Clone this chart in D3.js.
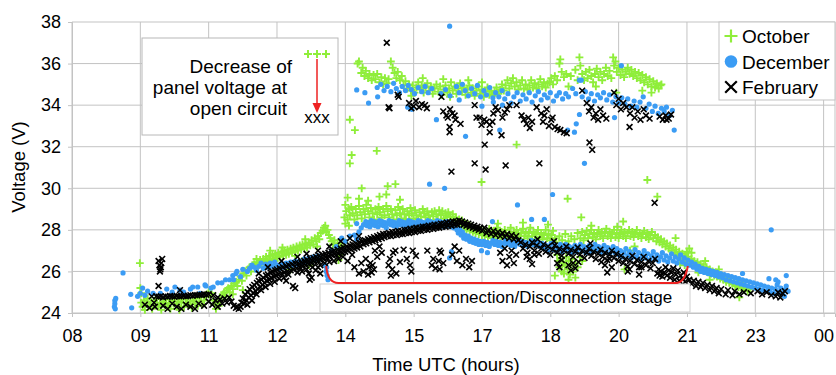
<!DOCTYPE html>
<html>
<head>
<meta charset="utf-8">
<script src="https://cdn.jsdelivr.net/npm/d3@7"></script>
<style>
  body { margin: 0; background: #fff; }
  text { font-family: "Liberation Sans", Arial, sans-serif; fill: #000; }
</style>
</head>
<body>
<svg id="chart" width="836" height="375"></svg>
<script>
// Axis ticks (hours are decimal UTC hours; 24.5 = 00:30 next day)
const xTicks = [8, 9.5, 11, 12.5, 14, 15.5, 17, 18.5, 20, 21.5, 23, 24.5];
const yTicks = [24, 26, 28, 30, 32, 34, 36, 38];
const seriesNames = ["October", "December", "February"];

// October: panel voltage, [hour, volts]
const octLow = [[9.49,26.4],[9.5,25.2],[9.52,24.95],
[9.52,24.5],[9.55,24.3],[9.58,24.6],[9.6,24.15],[9.63,24.45],[9.66,24.7],[9.7,24.35],[9.73,24.55],[9.76,24.2],[9.8,24.6],[9.83,24.4],[9.86,24.7],[9.9,24.3],[9.93,24.5],[9.96,24.15],[10.0,24.55],[10.03,24.4],[10.06,24.65],[10.1,24.3],[10.13,24.5],[10.16,24.2],[10.2,24.6],[10.23,24.45],[10.26,24.7],[10.3,24.35],[10.33,24.55],[10.36,24.15],[10.4,24.5],[10.43,24.65],[10.46,24.3],[10.5,24.5],[10.53,24.7],[10.56,24.4],[10.6,24.55],[10.63,24.25],[10.66,24.6],[10.7,24.45],[10.73,24.7],[10.76,24.35],[10.8,24.55],[10.83,24.75],[10.86,24.4],[10.9,24.6],[10.93,24.8],[10.96,24.9],[11.0,25.0],[11.03,24.85],[11.06,24.95],[11.1,24.6],[11.13,24.4],[11.16,24.2],[11.19,24.5],[11.22,24.35],[11.25,24.6],[11.28,24.75],
[11.31,24.9],[11.34,25.0],[11.37,24.8],[11.4,25.1],[11.43,25.2],[11.46,25.0],[11.5,25.3],[11.53,25.15],[11.56,25.4],[11.6,25.5],[11.63,25.3],[11.66,25.6],[11.7,25.75],[11.73,25.55],[11.76,25.9],[11.8,26.0],[11.83,25.8],[11.86,26.1],[11.9,26.2],[11.93,26.0],[11.96,26.3],[12.0,26.35],[12.03,26.2],[12.06,26.45],[11.75,25.1],[11.53,24.9],[12.05,26.6],
[12.1,26.3],[12.13,26.55],[12.16,26.4],[12.2,26.6],[12.23,26.45],[12.26,26.7],[12.3,26.5],[12.33,26.75],[12.36,26.55],[12.4,26.8],[12.43,26.6],[12.46,26.85],[12.5,26.65],[12.53,26.9],[12.56,26.7],[12.6,26.95],[12.63,26.75],[12.66,27.0],[12.7,26.8],[12.73,27.05],[12.76,26.85],[12.8,27.1],[12.83,26.9],[12.86,27.15],[12.9,26.95],[12.93,27.2],[12.96,27.0],[13.0,27.25],[13.03,27.05],[13.06,27.3],[13.1,27.1],[13.13,27.35],[13.16,27.15],[13.2,27.4],[13.23,27.25],[13.26,27.5],[13.3,27.3],[13.33,27.6],[13.36,27.45],[13.4,27.7],[13.43,27.55],[13.46,27.85],[13.5,27.95],[13.53,28.1],[13.56,28.2],[13.58,27.9],[13.61,28.0],[13.64,27.75],[13.67,27.6],[13.7,27.45],[13.73,27.3],[13.76,27.5],[13.8,27.2],[13.83,27.35],[13.86,27.1],[13.9,27.25],
[12.25,26.35],[12.45,26.5],[12.62,27.15],[12.9,26.75],[13.12,27.55],[13.38,27.2],[12.35,27.0],
[13.05,26.5],[13.2,26.3],[13.3,26.6],[12.8,26.1],[13.85,26.55],[13.87,26.8],[13.98,27.4],
[13.98,28.6],[14.0,29.2],[14.02,28.9],[14.05,28.5],[14.08,29.0],[14.1,28.7],[14.13,29.1],[14.16,28.8],[14.2,28.5],[14.23,29.0],[14.26,28.7],[14.3,29.15],[14.33,28.85],[14.36,28.55],[14.4,29.0],[14.43,28.75],[14.46,29.2],[14.5,28.9],[14.53,28.6],[14.56,29.05],[14.6,28.8],[14.63,28.5],[14.66,29.0],[14.7,28.75],[14.73,29.1],[14.76,28.85],[14.8,28.6],[14.83,29.0],[14.86,28.7],[14.9,29.15],[14.93,28.9],[14.96,28.6],[15.0,29.0],[15.03,28.75],[15.06,28.5],[15.1,28.95],[15.13,28.7],[15.16,29.1],[15.2,28.8],[15.23,28.55],[15.26,29.0],[15.3,28.75],[15.33,28.5],[15.36,28.9],[15.4,28.7],[15.43,29.05],[15.46,28.8],[15.5,28.55],[15.53,28.95],[15.56,28.7],[15.6,28.5],[15.63,28.85],[15.66,28.65],[15.7,29.0],[15.73,28.8],[15.76,28.6],[15.8,28.9],[15.83,28.7],[15.86,28.45],[15.9,28.85],[15.93,28.65],[15.96,28.9],[16.0,28.75],[16.03,28.5],[16.06,28.95],[16.1,28.7],[16.13,28.9],[16.16,28.55],[16.2,28.8],[16.23,28.6],[16.26,28.85],[16.3,28.65],[16.33,28.45],[16.36,28.75],[16.4,28.5],
[14.3,29.5],[14.5,29.4],[14.75,29.6],[14.9,29.7],[15.2,29.45],[14.05,29.55],[14.36,30.0],[14.93,30.1],[15.1,30.2],[14.0,28.3],[14.08,28.2],
[16.43,28.6],[16.46,28.35],[16.5,28.5],[16.53,28.2],[16.56,28.45],[16.6,28.1],[16.63,28.3],[16.66,28.0],[16.7,28.25],[16.73,27.95],[16.76,28.15],[16.8,27.9],[16.83,28.1],[16.86,27.85],[16.9,28.05],[16.93,27.8],[16.96,28.0],
[17.0,27.75],[17.03,28.0],[17.06,27.7],[17.1,27.9],[17.13,27.65],[17.16,28.05],[17.2,27.8],[17.23,27.6],[17.26,27.95],[17.3,27.75],[17.33,28.1],[17.36,27.85],[17.4,27.6],[17.43,27.9],[17.46,27.7],[17.5,28.0],[17.53,27.8],[17.56,27.55],[17.6,27.85],[17.63,28.1],[17.66,27.7],[17.7,27.9],[17.73,27.65],[17.76,28.0],[17.8,27.8],[17.83,27.55],[17.86,27.85],[17.9,28.05],[17.93,27.7],[17.96,27.9],[18.0,27.6],[18.03,27.85],[18.06,28.1],[18.1,27.7],[18.13,27.9],[18.16,27.55],[18.2,27.8],[18.23,28.0],[18.26,27.65],[18.3,27.85],[18.33,27.55],[18.36,27.75],[18.4,28.0],[18.43,27.6],[18.46,27.8],[18.5,27.5],[18.53,27.75],[18.56,27.95],[18.6,27.6],
[17.35,28.3],[17.62,27.35],[17.9,28.35],[18.18,27.35],[18.45,28.25],
[18.65,26.8],[18.68,26.5],[18.7,26.2],[18.72,26.6],[18.75,26.0],[18.78,26.4],[18.8,25.9],[18.82,26.3],[18.85,26.7],[18.88,26.1],[18.9,26.5],[18.93,25.85],[18.95,26.3],[18.98,26.6],[19.0,26.0],[19.05,26.4],[19.1,26.2],[19.15,26.7],[19.2,26.5],[18.6,25.8],[18.9,25.6],[19.05,25.7],
[18.63,27.4],[18.7,27.7],[18.76,27.5],[18.83,27.8],[18.9,27.45],[18.96,27.7],[19.03,27.55],[19.1,27.85],[19.16,27.6],[19.2,27.9],[19.23,27.5],[19.26,27.75],[19.3,27.95],[19.33,27.6],[19.36,27.8],[19.4,28.0],[19.43,27.65],[19.46,27.85],[19.5,27.55],[19.53,27.8],[19.56,28.0],[19.6,27.7],[19.63,27.9],[19.66,27.6],[19.7,27.85],[19.73,28.05],[19.76,27.7],[19.8,27.9],[19.83,27.6],[19.86,27.8],[19.9,28.0],[19.93,27.65],[19.96,27.85],[20.0,27.6],[20.03,27.8],[20.06,28.0],[20.1,27.7],[20.13,27.9],[20.16,27.6],[20.2,27.85],[20.23,28.0],[20.26,27.7],[20.3,27.9],[20.33,27.65],[20.36,27.8],[20.4,28.0],[20.43,27.7],[20.46,27.85],[20.5,27.6],[20.53,27.8],[20.56,27.95],[20.6,27.65],[20.63,27.85],[20.66,27.55],[20.7,27.75],[20.73,27.9],[20.76,27.6],[20.8,27.75],[20.83,27.45],[20.86,27.65],[20.9,27.4],[20.93,27.55],[20.96,27.3],[21.0,27.45],
[19.18,28.6],[19.4,28.2],[19.97,28.15],[20.1,28.4],[20.35,27.2],[20.13,26.1],[19.45,27.1],[20.25,27.0],
[21.03,27.2],[21.06,27.35],[21.1,27.1],[21.13,27.25],[21.16,27.0],[21.2,27.15],[21.23,26.9],[21.26,27.05],[21.3,26.8],[21.33,26.95],[21.36,26.7],[21.4,26.85],[21.43,26.6],[21.46,26.75],[21.5,26.5],[21.53,26.7],[21.56,26.45],[21.6,26.6],[21.63,26.35],[21.66,26.5],[21.7,26.3],[21.73,26.45],[21.76,26.2],[21.8,26.35],[21.83,26.1],[21.86,26.25],[21.9,26.05],[21.93,26.2],[21.96,25.95],[22.0,26.1],[22.03,25.9],[22.06,26.0],[22.1,25.8],[22.13,25.95],[22.16,25.75],[22.2,25.85],[22.23,25.65],[22.26,25.8],[22.3,25.6],[22.33,25.7],[22.36,25.5],[22.4,25.65],[22.43,25.45],[22.46,25.55],[22.5,25.4],[22.53,25.5],[22.56,25.3],[22.6,25.45],[22.63,25.25],[22.66,25.35],[22.7,25.2],[22.73,25.3],[22.76,25.1],[22.8,25.2],[22.83,25.05],[22.86,25.15],
[21.25,27.6],[21.5,26.95],[21.55,27.1],[22.65,24.75],[22.0,25.6],[21.45,26.3],[21.35,26.4],[21.6,26.9],[21.75,25.95],[21.9,26.5],[22.2,26.1]];

const octHigh = [[14.27,36.0],[14.3,36.1],[14.38,35.8],[14.35,35.55],[14.42,35.4],[14.45,35.65],[14.5,35.3],[14.53,35.5],[14.58,35.2],[14.62,35.45],[14.66,35.25],[14.7,35.5],[14.75,35.1],[14.79,35.35],[14.83,35.0],[14.87,35.3],[14.91,35.05],[14.95,35.25],[15.0,36.1],[15.04,35.8],[15.08,35.55],[15.12,35.3],[15.15,35.6],[15.2,35.2],[15.24,35.4],[15.28,34.95],[15.32,35.15],[15.36,34.8],[15.4,35.0],[15.44,34.7],[15.48,34.95],[15.52,34.6],[15.56,34.85],[15.6,35.1],[15.64,34.75],[15.68,34.95],[15.72,34.6],[15.76,34.85],[15.8,35.05],[15.84,34.7],[15.88,34.9],[15.92,34.55],[15.96,34.8],[16.0,35.0],[16.04,34.65],[16.08,34.9],[16.12,34.5],[16.16,34.75],[16.2,34.95],[16.24,34.6],[16.28,34.8],[16.32,35.1],[16.36,34.7],[16.4,34.9],[16.44,34.55],[16.48,34.8],[16.52,35.05],[16.56,34.65],[16.6,34.85],[16.64,34.5],[16.68,34.75],[16.72,34.95],[16.76,34.6],[16.8,34.8],[16.84,34.45],[16.88,34.7],[16.92,34.9],[16.96,34.55],[17.0,34.75],[17.04,34.4],[17.08,34.65],[17.12,34.85],[17.16,34.5],[17.2,34.7],[17.24,34.45],[17.28,34.65],[17.32,34.85],[17.36,34.55],[17.4,34.75],[17.44,35.0],[17.48,34.7],[17.52,34.95],[17.56,35.2],[17.6,34.8],[17.64,35.05],[17.68,35.3],[17.72,34.9],[17.76,35.1],[17.8,34.75],[17.84,34.95],[17.88,35.2],[17.92,34.8],[17.96,35.0],[18.0,34.75],[18.04,34.95],[18.08,35.2],[18.12,34.85],[18.16,35.05],[18.2,34.8],[18.24,35.0],[18.28,35.25],[18.32,34.9],[18.36,35.1],[18.4,34.85],[18.44,35.05],[18.48,35.1],[18.52,35.3],[18.56,35.0],[18.6,35.4],[18.65,35.2],[18.7,36.0],[18.72,36.2],[18.75,35.6],[18.8,35.35],[18.85,35.5],[18.9,34.9],
[15.7,35.3],[16.15,35.25],[16.7,35.2],[17.0,35.1],[15.45,34.45],[16.3,34.4],
[19.1,35.2],[19.14,36.3],[19.16,35.9],[19.2,35.5],[19.24,35.2],[19.28,35.6],[19.32,35.3],[19.36,35.7],[19.4,35.4],[19.44,35.1],[19.48,35.5],[19.52,35.75],[19.56,35.35],[19.6,35.6],[19.64,35.2],[19.68,35.5],[19.72,35.8],[19.76,35.4],[19.8,35.65],[19.84,35.3],[19.88,36.3],[19.9,35.9],[19.93,36.1],[19.96,35.6],[20.0,35.8],[20.04,35.45],[20.08,35.7],[20.12,35.35],[20.16,35.6],[20.2,35.8],[20.24,35.5],[20.28,35.7],[20.32,35.4],[20.36,35.6],[20.4,35.3],[20.44,35.55],[20.48,35.2],[20.52,35.45],[20.56,35.1],[20.6,35.35],[20.64,35.0],[20.68,35.25],[20.72,34.9],[20.76,35.15],[20.8,34.85],[20.84,35.05],[20.88,34.8],[20.92,34.95],[20.94,35.0],[20.52,34.7],[20.72,34.6],[19.95,34.6],[19.5,34.9],[18.95,35.4],[19.05,35.7],
[14.1,33.3],[14.21,32.8],[14.14,31.6],[14.1,31.2],[14.69,31.8],[17.76,32.1],[20.63,30.4],[20.85,29.6],[18.88,29.5],[16.99,30.3]];

// December
const decLow = [[8.93,24.3],[8.94,24.45],[8.94,24.6],[8.95,24.2],[8.96,24.7],[9.12,25.93],[9.29,24.9],[9.31,24.25],[9.44,24.8],[9.5,24.95],[9.55,25.2],[9.6,24.85],[9.66,25.05],[9.78,24.95],[9.94,24.95],[10.08,25.15],[10.2,25.0],[10.26,25.25],[10.37,25.1],[10.45,25.0],[10.6,25.15],[10.65,25.25],[10.76,25.25],[10.81,24.95],[10.92,25.35],[10.94,25.3],[11.05,25.2],[11.1,25.25],[11.2,25.45],[11.29,25.45],[11.37,25.6],[11.46,25.6],[11.53,25.8],[11.55,25.6],[11.6,25.9],[11.62,26.0],[11.7,25.75],[11.75,26.1],[11.85,26.0],[11.9,26.15],[11.95,26.3],[12.0,26.2],[12.05,26.05],
[12.1,26.25],[12.15,26.4],[12.2,26.15],[12.25,26.35],[12.3,26.2],[12.35,26.4],[12.4,26.25],[12.45,26.45],[12.5,26.3],[12.55,26.15],[12.6,26.35],[12.65,26.2],[12.7,26.4],[12.75,26.25],[12.8,26.45],[12.85,26.3],[12.9,26.5],[12.95,26.35],[13.0,26.5],[13.05,26.4],[13.1,26.6],[13.15,26.45],[13.2,26.65],[13.25,26.5],[13.3,26.7],[13.35,26.55],[13.4,26.75],[13.45,26.6],[13.55,26.3],[13.58,26.0],[13.6,25.8],[13.59,26.2],[13.62,25.6],
[13.7,27.0],[13.8,27.2],[13.92,27.6],[14.0,27.45],[14.1,27.7],[14.2,27.75],[14.25,27.55],[14.25,28.3],[14.3,27.9],[14.35,28.1],[14.4,28.25],
[14.45,28.4],[14.48,28.2],[14.51,28.35],[14.54,28.15],[14.57,28.45],[14.6,28.25],[14.63,28.4],[14.66,28.2],[14.69,28.35],[14.72,28.15],[14.75,28.45],[14.78,28.25],[14.81,28.4],[14.84,28.2],[14.87,28.35],[14.9,28.1],[14.93,28.3],[14.96,28.45],[15.0,28.25],[15.03,28.4],[15.06,28.2],[15.09,28.35],[15.12,28.15],[15.15,28.3],[15.18,28.45],[15.21,28.25],[15.24,28.4],[15.27,28.2],[15.3,28.35],[15.33,28.15],[15.36,28.3],[15.39,28.45],[15.42,28.25],[15.45,28.4],[15.48,28.2],[15.51,28.35],[15.54,28.15],[15.57,28.3],[15.6,28.45],[15.63,28.25],[15.66,28.4],[15.69,28.2],[15.72,28.35],[15.75,28.15],[15.78,28.3],[15.81,28.45],[15.84,28.25],[15.87,28.4],[15.9,28.2],[15.93,28.35],[15.96,28.15],[15.99,28.3],[16.02,28.45],[16.05,28.25],[16.08,28.4],[16.11,28.2],[16.14,28.35],[16.17,28.15],[16.2,28.3],[16.23,28.4],[16.26,28.2],[16.29,28.35],[16.32,28.15],[16.35,28.3],[16.38,28.1],[16.41,28.25],
[16.45,28.0],[16.48,27.85],[16.51,28.05],[16.54,27.75],[16.57,27.9],[16.6,27.6],[16.63,27.75],[16.66,27.55],[16.7,27.7],[16.73,27.45],[16.76,27.6],[16.8,27.4],[16.83,27.55],[16.86,27.35],[16.9,27.5],[16.93,27.3],[16.96,27.45],
[17.0,27.3],[17.04,27.45],[17.08,27.25],[17.12,27.4],[17.16,27.2],[17.2,27.35],[17.24,27.5],[17.28,27.3],[17.32,27.45],[17.36,27.25],[17.4,27.4],[17.44,27.2],[17.48,27.35],[17.52,27.5],[17.56,27.3],[17.6,27.45],[17.64,27.25],[17.68,27.4],[17.72,27.2],[17.76,27.35],[17.8,27.5],[17.84,27.3],[17.88,27.45],[17.92,27.25],[17.96,27.4],[18.0,27.2],[18.04,27.35],[18.08,27.5],[18.12,27.3],[18.16,27.45],[18.2,27.25],[18.24,27.4],[18.28,27.2],
[18.32,27.35],[18.36,27.1],[18.4,27.25],[18.44,27.0],[18.48,27.2],[18.52,27.35],[18.56,27.05],[18.6,27.25],[18.64,27.0],[18.68,27.15],[18.72,27.3],[18.76,26.95],[18.8,27.15],[18.84,27.3],[18.88,27.0],[18.92,27.2],[18.96,26.9],[19.0,27.1],[19.04,27.25],[19.08,26.95],[19.12,27.15],[19.16,27.3],[19.2,27.0],[19.24,27.2],[19.28,26.9],[19.32,27.1],[19.36,27.25],[19.4,26.95],[19.44,27.15],[19.48,27.3],[19.52,27.0],[19.56,27.2],[19.6,26.9],[19.64,27.1],[19.68,27.25],[19.72,26.95],[19.76,27.15],[19.8,26.85],[19.84,27.05],[19.88,27.2],[19.92,26.9],[19.96,27.1],
[20.0,26.8],[20.04,27.0],[20.08,26.7],[20.12,26.9],[20.16,27.1],[20.2,26.75],[20.24,26.95],[20.28,26.65],[20.32,26.85],[20.36,27.05],[20.4,26.7],[20.44,26.9],[20.48,26.6],[20.52,26.8],[20.56,27.0],[20.6,26.65],[20.64,26.85],[20.68,26.55],[20.72,26.75],[20.76,26.95],[20.8,26.6],[20.84,26.8],[20.88,26.5],[20.92,26.7],[20.96,26.9],[21.0,26.55],[21.04,26.75],[21.08,26.45],[21.12,26.65],[21.16,26.85],[21.2,26.5],[21.24,26.7],[21.28,26.4],[21.32,26.6],[21.36,26.8],[21.4,26.45],[21.44,26.65],[21.48,26.35],
[21.52,26.55],[21.56,26.3],[21.6,26.45],[21.64,26.2],[21.68,26.35],[21.72,26.1],[21.76,26.25],[21.8,26.0],[21.84,26.15],[21.88,25.95],[21.92,26.1],[21.96,25.9],[22.0,26.05],[22.04,25.85],[22.08,26.0],[22.12,25.8],[22.16,25.95],[22.2,25.75],[22.24,25.9],[22.28,25.7],[22.32,25.85],[22.36,25.6],[22.4,25.8],[22.44,25.55],[22.48,25.75],[22.52,25.5],[22.56,25.7],[22.6,25.45],[22.64,25.65],[22.68,25.4],[22.72,25.6],[22.76,25.35],[22.8,25.55],[22.84,25.3],[22.88,25.5],[22.92,25.25],[22.96,25.45],[23.0,25.2],[23.04,25.4],[23.08,25.15],[23.12,25.35],[23.16,25.1],[23.2,25.3],[23.24,25.05],[23.28,25.25],[23.32,25.0],[23.36,25.2],[23.4,24.95],[23.44,25.15],[23.48,25.35],[23.52,25.0],[23.56,25.2],[23.6,24.9],[23.64,25.1],[23.68,25.3],[23.72,25.05],[23.64,24.8],[23.68,25.8],[23.35,28.0],[22.72,25.9],[23.3,25.65],[23.45,25.6],[23.5,25.5],
[17.78,29.2],[18.09,28.5],[18.37,28.5],[17.23,28.4],[16.99,27.0],[17.12,26.9],[16.33,26.95],[16.29,26.65],[18.55,29.7],[15.85,30.2],[16.18,30.0]];

const decHigh = [[16.29,37.8],[14.25,34.73],[14.43,34.6],[14.51,34.1],[14.71,34.4],[14.7,34.85],[14.78,35.0],[14.85,34.7],[14.92,34.9],[15.0,34.65],[15.06,35.05],[15.12,34.8],[15.19,34.6],[15.25,34.9],[15.32,34.7],[15.38,34.95],[15.45,34.75],[15.52,34.55],[15.6,34.85],[15.68,34.65],[15.75,34.9],[15.82,34.6],[15.9,34.8],[15.37,33.9],[15.46,33.8],[16.0,33.3],[16.1,34.55],[16.2,34.75],[16.3,34.45],[16.44,34.9],[16.5,34.6],[16.57,35.0],[16.63,34.7],[16.7,34.45],[16.77,34.8],[16.84,34.55],[16.9,34.95],[16.97,34.4],[17.04,34.7],[17.1,34.5],[17.17,34.85],[17.24,34.35],[17.3,34.6],[17.37,34.4],[17.44,34.7],[17.5,34.3],[17.57,34.55],[17.64,34.1],[17.7,34.4],[17.77,34.6],[17.84,34.2],[17.9,34.5],[17.97,34.3],[18.04,34.6],[18.1,34.15],[18.17,34.45],[18.24,34.65],[18.3,34.25],[18.37,34.5],[18.44,34.35],[18.5,34.6],[18.57,34.2],[18.64,34.45],[18.7,34.6],[18.77,34.3],[18.84,34.55],[18.9,34.4],[18.99,34.8],[19.06,34.55],[19.14,35.2],[19.18,35.2],[19.2,34.4],[19.27,34.65],[19.34,34.3],[19.4,34.55],[19.47,34.2],[19.54,34.5],[19.6,34.35],[19.67,34.6],[19.74,34.25],[19.8,34.5],[19.87,34.15],[19.94,34.4],[20.0,34.1],[20.06,35.9],[20.07,34.35],[20.14,34.05],[20.2,34.3],[20.27,33.95],[20.34,34.2],[20.4,33.9],[20.47,34.15],[20.54,34.4],[20.6,33.85],[20.67,34.05],[20.74,33.7],[20.8,33.95],[20.87,33.6],[20.94,33.85],[21.0,33.7],[21.05,33.9],[21.12,33.5],[21.18,33.75],[21.22,32.8],[16.64,32.5],[17.39,32.8],[19.91,33.4],[19.07,33.1],[19.03,32.7],[19.25,31.2],[18.88,32.8],[19.14,33.55],[16.5,34.25],[17.0,33.95],[17.25,34.15],[17.45,34.0]];

// February
const febLow = [[9.9,26.5],[9.92,26.3],[9.94,26.1],[9.96,26.4],[9.93,26.0],[9.98,26.6],[9.95,26.2],[9.9,25.3],[9.75,24.8],[9.82,24.3],
[9.85,24.8],[9.9,24.78],[9.95,24.8],[10.0,24.75],[10.05,24.8],[10.1,24.78],[10.15,24.82],[10.2,24.8],[10.25,24.78],[10.3,24.82],[10.35,24.8],[10.4,24.8],[10.45,24.83],[10.5,24.8],[10.55,24.82],[10.6,24.85],[10.65,24.83],[10.7,24.86],[10.75,24.85],[10.8,24.88],[10.85,24.87],[10.9,24.9],[10.95,24.88],[11.0,24.9],[10.37,25.1],
[9.6,24.4],[9.7,24.25],[9.8,24.5],[10.0,24.35],[10.1,24.2],[10.2,24.45],[10.3,24.3],[10.4,24.2],[10.5,24.4],[10.6,24.3],[10.7,24.2],[10.78,24.45],[10.9,24.35],[11.0,24.55],[11.08,24.4],[11.15,24.6],[11.2,24.3],[11.25,24.65],[11.3,24.45],[11.35,24.7],[11.4,24.5],[11.45,24.75],[11.5,24.55],[11.55,24.35],[11.6,24.25],[11.63,24.3],[11.66,24.2],[11.7,24.3],[11.2,24.75],[11.1,24.85],
[11.72,24.5],[11.75,24.7],[11.78,24.45],[11.8,24.9],[11.83,24.6],[11.86,25.0],[11.88,24.75],[11.9,25.15],[11.93,24.85],[11.96,25.25],[11.98,24.95],[12.0,25.35],[12.03,25.05],[12.06,25.45],[12.08,25.15],[12.1,25.55],[12.13,25.25],[12.16,25.6],[12.18,25.35],[12.2,25.7],[12.23,25.45],[12.26,25.8],[12.28,25.55],[12.3,25.85],[12.33,25.6],[12.36,25.95],[12.38,25.7],[12.4,26.0],[12.43,25.75],[12.46,26.05],[12.48,25.8],[12.5,26.1],[12.53,25.85],[12.56,26.15],[12.6,25.9],[12.63,26.2],[12.66,25.95],[12.7,26.25],[12.73,26.0],[12.76,26.3],[12.8,26.05],[12.83,26.35],[12.86,26.1],[12.9,26.4],[12.93,26.15],[12.96,26.4],[13.0,26.2],[13.03,26.45],[13.06,26.25],[13.1,26.5],[13.13,26.3],[13.16,26.55],[13.2,26.35],[13.23,26.6],[13.26,26.4],[13.3,26.65],[13.33,26.45],[13.36,26.7],[13.4,26.5],[13.43,26.75],[13.46,26.55],[13.5,26.8],[13.53,26.6],[13.56,26.85],[13.6,26.65],[13.63,26.9],[13.66,26.7],[13.7,26.95],[13.73,26.75],[13.76,27.0],[13.8,26.8],[13.83,27.05],[13.86,26.85],[13.9,27.1],[13.93,26.9],[13.96,27.15],[14.0,26.95],[14.03,27.2],[14.06,27.0],[14.1,27.25],[14.13,27.05],[14.16,27.3],[14.2,27.1],[14.23,27.35],[14.26,27.15],[14.3,27.4],[14.33,27.2],[14.36,27.45],[14.4,27.3],[14.43,27.5],[14.46,27.35],[14.5,27.55],[14.53,27.4],[14.56,27.6],[14.6,27.45],[14.63,27.65],[14.66,27.5],[14.7,27.7],[14.73,27.55],[14.76,27.75],[14.8,27.6],[14.83,27.8],[14.86,27.65],[14.9,27.8],[14.93,27.7],[14.96,27.85],[15.0,27.7],[15.03,27.9],[15.06,27.75],[15.1,27.9],[15.13,27.75],[15.16,27.95],[15.2,27.8],[15.23,27.95],[15.26,27.8],[15.3,28.0],[15.33,27.85],[15.36,28.0],[15.4,27.85],[15.43,28.05],[15.46,27.9],[15.5,28.05],[15.53,27.9],[15.56,28.1],[15.6,27.95],[15.63,28.1],[15.66,27.95],[15.7,28.15],[15.73,28.0],[15.76,28.15],[15.8,28.0],[15.83,28.2],[15.86,28.05],[15.9,28.2],[15.93,28.05],[15.96,28.25],[16.0,28.1],[16.03,28.25],[16.06,28.1],[16.1,28.3],[16.13,28.15],[16.16,28.3],[16.2,28.15],[16.23,28.35],[16.26,28.2],[16.3,28.35],[16.33,28.2],[16.36,28.4],[16.4,28.25],[16.43,28.4],[16.46,28.25],[16.5,28.45],[16.53,28.3],[16.56,28.4],[16.6,28.25],[16.63,28.35],[16.66,28.2],[16.7,28.3],[16.73,28.15],[16.76,28.25],[16.8,28.1],[16.83,28.2],[16.86,28.05],[16.9,28.15],[16.93,28.0],[16.96,28.1],
[11.85,24.4],[11.95,24.6],[12.05,24.9],[12.15,25.1],[12.25,25.25],[12.35,25.4],[12.45,25.5],[12.55,25.65],[12.65,25.7],[12.75,25.85],[12.95,25.95],[13.05,26.0],[13.15,26.1],[13.28,26.2],[13.45,26.3],[13.55,26.4],[13.65,26.45],[13.75,26.5],[13.85,26.6],[13.95,26.7],[12.1,25.9],[12.3,26.2],[12.6,26.5],[12.95,26.7],[13.15,26.85],[13.4,27.0],[13.65,27.2],[13.9,27.45],[14.1,27.6],[14.3,27.7],
[17.0,27.95],[17.05,28.1],[17.1,27.85],[17.15,28.0],[17.2,27.8],[17.25,27.95],[17.3,27.75],[17.35,27.9],[17.4,27.7],[17.45,27.85],[17.5,27.65],[17.55,27.8],[17.6,27.6],[17.65,27.75],[17.7,27.55],[17.75,27.7],[17.8,27.5],
[17.85,27.4],[17.9,27.1],[17.95,27.3],[18.0,26.9],[18.05,27.2],[18.1,27.4],[18.15,27.0],[18.2,27.25],[18.25,26.85],[18.3,27.1],[18.35,27.3],[18.4,26.95],[18.45,27.2],[18.5,26.8],[18.55,27.05],[18.6,27.25],[18.65,26.9],[18.7,27.1],[18.75,26.75],[18.8,27.0],[18.85,27.2],[18.9,26.85],[18.95,27.05],[19.0,26.7],[19.05,26.95],[19.1,27.15],[19.15,26.8],[19.2,27.0],[19.25,26.65],[19.3,26.9],[19.35,27.1],[19.4,26.75],[19.45,26.95],[19.5,26.6],[19.55,26.85],[19.6,27.05],[19.65,26.7],[19.7,26.9],[19.75,26.55],[19.8,26.8],[19.85,27.0],[19.9,26.65],[19.95,26.85],[20.0,26.5],
[17.4,26.9],[17.45,26.5],[17.5,27.1],[17.55,26.3],[17.6,26.7],[17.65,27.0],[17.7,26.4],[17.75,26.8],[18.05,26.6],[18.1,26.35],[18.15,26.8],[18.65,26.4],[18.7,26.2],[18.75,26.55],[18.9,26.3],[18.95,26.05],[19.0,26.4],[19.05,26.15],[19.7,26.3],[19.75,25.95],[19.8,26.6],[19.85,26.2],
[18.22,27.55],[18.58,27.45],[19.12,26.45],[19.38,27.35],[19.62,26.45],[17.98,26.7],
[20.05,26.75],[20.1,26.4],[20.15,26.6],[20.2,26.25],[20.25,26.5],[20.3,26.75],[20.35,26.35],[20.4,26.55],[20.45,26.2],[20.5,26.45],[20.55,26.7],[20.6,26.3],[20.65,26.5],[20.7,26.15],[20.75,26.4],[20.8,26.6],[20.85,25.9],[20.88,26.1],[20.9,25.8],[20.93,26.0],[20.96,25.75],[21.0,25.95],[21.03,26.2],[21.06,25.8],[21.1,26.05],[21.13,25.7],[21.16,25.95],[21.2,26.15],[21.23,25.6],[21.26,25.85],[21.3,26.05],[21.33,25.55],[21.36,25.8],[21.4,25.65],[21.43,25.95],[21.46,25.5],[21.5,25.75],[20.2,26.0],[20.45,25.85],[20.24,26.1],[20.5,26.2],
[21.55,25.6],[21.6,25.4],[21.65,25.55],[21.7,25.3],[21.75,25.5],[21.8,25.25],[21.85,25.45],[21.9,25.2],[21.95,25.35],[22.0,25.1],[22.05,25.3],[22.1,25.05],[22.15,25.2],[22.2,24.95],[22.25,25.15],[22.35,24.9],[22.4,25.1],[22.5,24.85],[22.55,25.05],[22.65,24.9],[22.75,25.0],[22.9,24.95],[23.05,25.05],[23.15,24.9],[23.25,25.0],[23.35,24.85],[23.45,24.8],[23.5,25.0],[23.55,24.75],[23.6,24.95],[23.65,25.05],
[13.22,25.6],[13.26,25.7],[13.4,26.2],[13.45,25.9],[13.2,25.9],[12.85,25.3],[12.7,25.55],[12.9,25.2],[13.35,26.05],
[14.05,26.5],[14.15,26.8],[14.2,26.2],[14.3,25.9],[14.35,26.4],[14.4,26.0],[14.45,26.6],[14.5,25.85],[14.52,26.2],[14.55,26.4],[14.58,25.95],[14.6,26.3],[14.63,26.1],[14.65,27.0],[14.7,26.7],[14.75,27.2],[14.8,26.9],[14.95,26.3],[14.98,26.6],[15.0,25.8],[15.03,26.1],[15.05,26.9],[15.1,27.0],[15.12,25.9],[15.2,26.45],[15.28,27.05],[15.35,26.6],[15.42,26.3],[15.45,26.0],[15.48,27.0],[15.55,26.75],[15.8,27.0],[15.9,26.3],[15.93,26.6],[15.98,26.15],[16.05,26.5],[16.1,26.9],[16.15,26.4],[16.35,26.8],[16.4,27.2],[16.45,26.5],[16.5,27.0],[16.57,26.3],[16.65,26.6],[16.72,26.2],[16.78,26.5],[16.07,27.0],[16.07,26.1]];

const febHigh = [[14.91,37.0],[14.95,33.9],[14.97,33.85],[15.17,34.4],[15.15,34.5],[15.4,34.1],[15.45,33.85],[15.5,33.95],[15.55,34.2],[15.62,33.9],[15.68,34.05],[15.75,34.0],[15.79,33.85],[16.11,34.4],[16.15,33.7],[16.22,33.5],[16.25,33.4],[16.3,33.8],[16.35,33.6],[16.4,33.5],[16.42,33.3],[16.29,32.95],[16.29,32.7],[16.53,33.1],[16.84,34.0],[16.88,33.4],[16.95,33.4],[16.99,33.05],[17.05,33.3],[17.1,33.2],[17.17,33.05],[17.17,32.7],[17.23,33.2],[17.06,32.1],[16.84,31.2],[16.33,30.8],[17.08,30.9],[17.52,31.1],[17.25,33.6],[17.3,33.9],[17.35,33.75],[17.43,32.55],[17.45,33.4],[17.5,33.65],[17.55,33.8],[17.6,34.0],[17.76,34.0],[17.87,33.5],[17.92,33.3],[17.98,33.1],[18.02,33.4],[18.05,32.9],[18.1,33.2],[18.2,33.9],[18.26,31.2],[18.3,33.6],[18.34,33.2],[18.37,33.5],[18.42,33.8],[18.47,33.0],[18.52,33.3],[18.55,33.4],[18.6,32.95],[18.66,32.85],[18.72,32.8],[18.8,32.7],[18.86,32.65],[19.2,34.7],[19.3,34.1],[19.35,33.7],[19.4,33.9],[19.45,33.4],[19.5,33.6],[19.55,33.3],[19.6,33.8],[19.66,33.5],[19.73,33.35],[19.36,32.2],[19.42,31.85],[19.9,34.6],[19.95,34.0],[20.0,34.3],[20.05,33.8],[20.1,34.1],[20.17,33.9],[20.24,32.95],[20.25,33.6],[20.3,33.9],[20.35,33.4],[20.42,33.7],[20.48,33.3],[20.55,33.8],[20.6,33.5],[20.68,33.35],[20.9,33.45],[20.97,33.3],[21.03,33.5],[21.1,33.35],[21.15,33.55],[21.05,33.3],[20.79,29.3]];

const colors = { October: "#8fee3a", December: "#3b9cf4", February: "#000000" };
const gridColor = "#c3c3c3";

const svg = d3.select("#chart");
const plot = { left: 72, right: 835, top: 22, bottom: 313 };

const x = d3.scaleLinear().domain([8, 24.75]).range([plot.left, plot.right]);
const y = d3.scaleLinear().domain([24, 38]).range([plot.bottom, plot.top]);

// Grid
const grid = svg.append("g");
grid.selectAll("line.h").data(yTicks).join("line")
  .attr("x1", plot.left).attr("x2", plot.right)
  .attr("y1", d => y(d)).attr("y2", d => y(d))
  .attr("stroke", gridColor).attr("stroke-width", 1);
grid.selectAll("line.v").data(xTicks).join("line")
  .attr("x1", d => x(d)).attr("x2", d => x(d))
  .attr("y1", plot.top).attr("y2", plot.bottom)
  .attr("stroke", gridColor).attr("stroke-width", 1);
grid.append("line").attr("x1", plot.right).attr("x2", plot.right)
  .attr("y1", plot.top).attr("y2", plot.bottom)
  .attr("stroke", gridColor).attr("stroke-width", 1);

// Axes
const hourFmt = h => String(Math.floor(h) % 24).padStart(2, "0");
const xAxis = svg.append("g").attr("transform", `translate(0,${plot.bottom})`)
  .call(d3.axisBottom(x).tickValues(xTicks).tickFormat(hourFmt).tickSize(4).tickPadding(12));
const yAxis = svg.append("g").attr("transform", `translate(${plot.left},0)`)
  .call(d3.axisLeft(y).tickValues(yTicks).tickFormat(d3.format("d")).tickSize(4).tickPadding(7));
[xAxis, yAxis].forEach(a => {
  a.select(".domain").attr("stroke", gridColor);
  a.selectAll(".tick line").attr("stroke", gridColor);
  a.selectAll(".tick text").attr("font-size", 18).attr("fill", "#000")
    .attr("font-family", "Liberation Sans, Arial, sans-serif");
});

svg.append("text").attr("x", 446).attr("y", 371).attr("text-anchor", "middle")
  .attr("font-size", 18.5).text("Time UTC (hours)");
svg.append("text").attr("transform", "translate(25,167) rotate(-90)")
  .attr("text-anchor", "middle").attr("font-size", 18.5).text("Voltage (V)");

// Marker shapes
const plusPath = s => `M${-s},0H${s}M0,${-s}V${s}`;
const crossPath = s => `M${-s},${-s}L${s},${s}M${-s},${s}L${s},${-s}`;

const series = [
  { name: seriesNames[0], pts: octLow.concat(octHigh) },
  { name: seriesNames[1], pts: decLow.concat(decHigh) },
  { name: seriesNames[2], pts: febLow.concat(febHigh) }
];

const marks = svg.append("g");
series.forEach(s => {
  const g = marks.append("g");
  if (s.name === "December") {
    g.selectAll("circle").data(s.pts).join("circle")
      .attr("cx", d => x(d[0])).attr("cy", d => y(d[1])).attr("r", 2.6)
      .attr("fill", colors[s.name]);
  } else {
    const isPlus = s.name === "October";
    g.selectAll("path").data(s.pts).join("path")
      .attr("transform", d => `translate(${x(d[0])},${y(d[1])})`)
      .attr("d", isPlus ? plusPath(3.9) : crossPath(2.9))
      .attr("fill", "none").attr("stroke", colors[s.name])
      .attr("stroke-width", isPlus ? 1.9 : 1.6);
  }
});

// Legend
const legend = svg.append("g");
legend.append("rect").attr("x", 719).attr("y", 22).attr("width", 116).attr("height", 78)
  .attr("fill", "#fff").attr("stroke", gridColor);
seriesNames.forEach((n, i) => {
  const cy = 36 + i * 25.5;
  const item = legend.append("g").attr("transform", `translate(731,${cy})`);
  if (n === "December") item.append("circle").attr("r", 6.3).attr("fill", colors[n]);
  else item.append("path").attr("d", n === "October" ? plusPath(6.5) : crossPath(5.8))
    .attr("stroke", colors[n]).attr("stroke-width", 2.2).attr("fill", "none");
  legend.append("text").attr("x", 742).attr("y", cy + 7).attr("font-size", 19).text(n);
});

// Note: open-circuit voltage decrease
const note = svg.append("g");
note.append("rect").attr("x", 142).attr("y", 38).attr("width", 196).attr("height", 97)
  .attr("fill", "#fff").attr("stroke", "#b8b8b8");
[["Decrease of", 292, 73], ["panel voltage at", 287, 94], ["open circuit", 287, 115]].forEach(([t, tx, ty]) =>
  note.append("text").attr("x", tx).attr("y", ty).attr("text-anchor", "end").attr("font-size", 19).text(t));
[308, 317, 326].forEach(px => note.append("path").attr("transform", `translate(${px},54)`)
  .attr("d", plusPath(4)).attr("stroke", colors.October).attr("stroke-width", 2).attr("fill", "none"));
note.append("line").attr("x1", 317).attr("x2", 317).attr("y1", 59).attr("y2", 104)
  .attr("stroke", "#ee2222").attr("stroke-width", 1.5);
note.append("path").attr("d", "M312.5,103L321.5,103L317,113Z").attr("fill", "#ee2222");
note.append("text").attr("x", 317).attr("y", 123).attr("text-anchor", "middle")
  .attr("font-size", 17).text("xxx");

// Note: connection stage bracket (from ~13.6 h to ~21.5 h)
const stage = svg.append("g");
stage.append("rect").attr("x", 320).attr("y", 284).attr("width", 370).attr("height", 28)
  .attr("fill", "#fff").attr("stroke", "#cfcfcf");
stage.append("path")
  .attr("d", `M${x(13.58)},266 C${x(13.6)},277 ${x(13.68)},283 ${x(13.85)},283 L${x(21.25)},283 C${x(21.4)},283 ${x(21.48)},276 ${x(21.52)},266`)
  .attr("fill", "none").attr("stroke", "#ee2222").attr("stroke-width", 2);
stage.append("text").attr("x", 333).attr("y", 303).attr("font-size", 17)
  .text("Solar panels connection/Disconnection stage");
</script>
</body>
</html>
